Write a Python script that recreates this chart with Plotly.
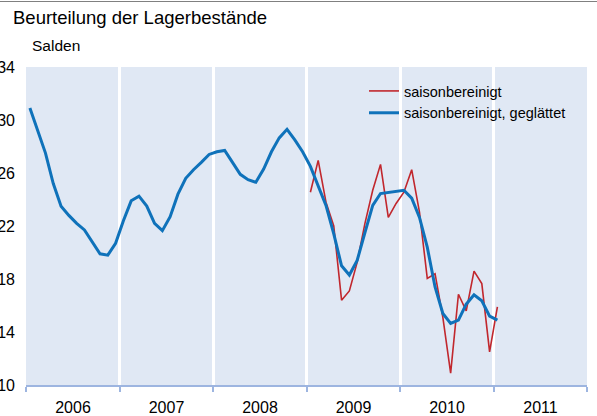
import plotly.graph_objects as go

# Monthly data, Jan 2006 .. Jan 2011
start_year = 2006
smoothed = [30.9, 29.2, 27.5, 25.2, 23.5, 22.8, 22.2, 21.7, 20.8, 19.9, 19.8, 20.7,
            22.4, 23.9, 24.25, 23.5, 22.2, 21.65, 22.7, 24.4, 25.6, 26.25, 26.8, 27.4,
            27.6, 27.7, 26.8, 25.9, 25.5, 25.3, 26.3, 27.6, 28.65, 29.3, 28.5, 27.6,
            26.5, 25.0, 23.55, 21.4, 19.0, 18.3, 19.4, 21.5, 23.55, 24.45, 24.55, 24.6,
            24.7, 24.1, 22.65, 20.4, 17.4, 15.4, 14.65, 14.9, 16.1, 16.8, 16.35, 15.2,
            14.9]
# raw seasonally adjusted values, Jan 2009 .. Jan 2011
raw_start_index = 36
raw = [24.55, 26.95, 23.8, 22.0, 16.4, 17.1, 19.25, 22.2, 24.7, 26.65, 22.65, 23.7,
       24.55, 26.25, 23.05, 18.05, 18.4, 15.1, 10.9, 16.85, 15.6, 18.6, 17.65, 12.5,
       15.9]

year_ticks = [2006, 2007, 2008, 2009, 2010, 2011, 2012]
year_labels = ["2006", "2007", "2008", "2009", "2010", "2011", ""]
y_ticks = [10, 14, 18, 22, 26, 30, 34]

x_smooth = [start_year + (i + 0.5) / 12 for i in range(len(smoothed))]
x_raw = [start_year + (raw_start_index + i + 0.5) / 12 for i in range(len(raw))]

W, H = 597, 416
ML, MR, MT, MB = 26, 10, 67, 31
pw = W - ML - MR
ph = H - MT - MB

fig = go.Figure()
fig.add_trace(go.Scatter(x=x_raw, y=raw, mode="lines", name="saisonbereinigt",
                         line=dict(color="#C1272D", width=1.6)))
fig.add_trace(go.Scatter(x=x_smooth, y=smoothed, mode="lines",
                         name="saisonbereinigt, geglättet",
                         line=dict(color="#0F72BA", width=3)))

font_family = "Liberation Sans, Arial, sans-serif"

fig.update_layout(
    width=W, height=H,
    margin=dict(l=ML, r=MR, t=MT, b=MB, pad=0, autoexpand=False),
    paper_bgcolor="white",
    plot_bgcolor="#E0E8F4",
    font=dict(family=font_family, size=16, color="black"),
    showlegend=True,
    legend=dict(x=(364 - ML) / pw, y=(H - MB - 75) / ph, xanchor="left", yanchor="top",
                bgcolor="rgba(0,0,0,0)", font=dict(size=14.5), tracegroupgap=0,
                itemwidth=30),
    title=dict(text="Beurteilung der Lagerbestände", x=13 / W, xanchor="left",
               xref="container", y=1 - 18 / H, yref="container", yanchor="middle",
               font=dict(size=18.5, family=font_family, color="black")),
    xaxis=dict(range=[2006, 2012], tickmode="array", tickvals=year_ticks,
               ticktext=year_labels, ticklabelshift=round(pw / 12),
               showgrid=True, gridcolor="white", gridwidth=2.5,
               showline=True, linecolor="#9DB5E0", linewidth=1.5,
               ticks="outside", ticklen=5, tickcolor="#9DB5E0", tickwidth=1.5,
               zeroline=False, fixedrange=True, ticklabelstandoff=2,
               automargin=False),
    yaxis=dict(range=[10, 34], tickmode="array", tickvals=y_ticks,
               showgrid=False, zeroline=False, showline=False, ticks="",
               ticklabelstandoff=10, fixedrange=True, automargin=False),
    annotations=[dict(text="Salden", xref="paper", yref="paper",
                      x=(30 - ML) / pw, y=(H - MB - 46) / ph, xanchor="left",
                      yanchor="middle", showarrow=False,
                      font=dict(size=15.5, family=font_family, color="black"))],
    shapes=[dict(type="line", xref="paper", yref="paper",
                 x0=-ML / pw, x1=(W - ML) / pw,
                 y0=(H - MB - 1.5) / ph, y1=(H - MB - 1.5) / ph,
                 line=dict(color="#808080", width=1))],
)

fig.write_html("out.html", config={"displayModeBar": False},
               post_script="document.body.style.margin='0';document.body.style.padding='0';")
